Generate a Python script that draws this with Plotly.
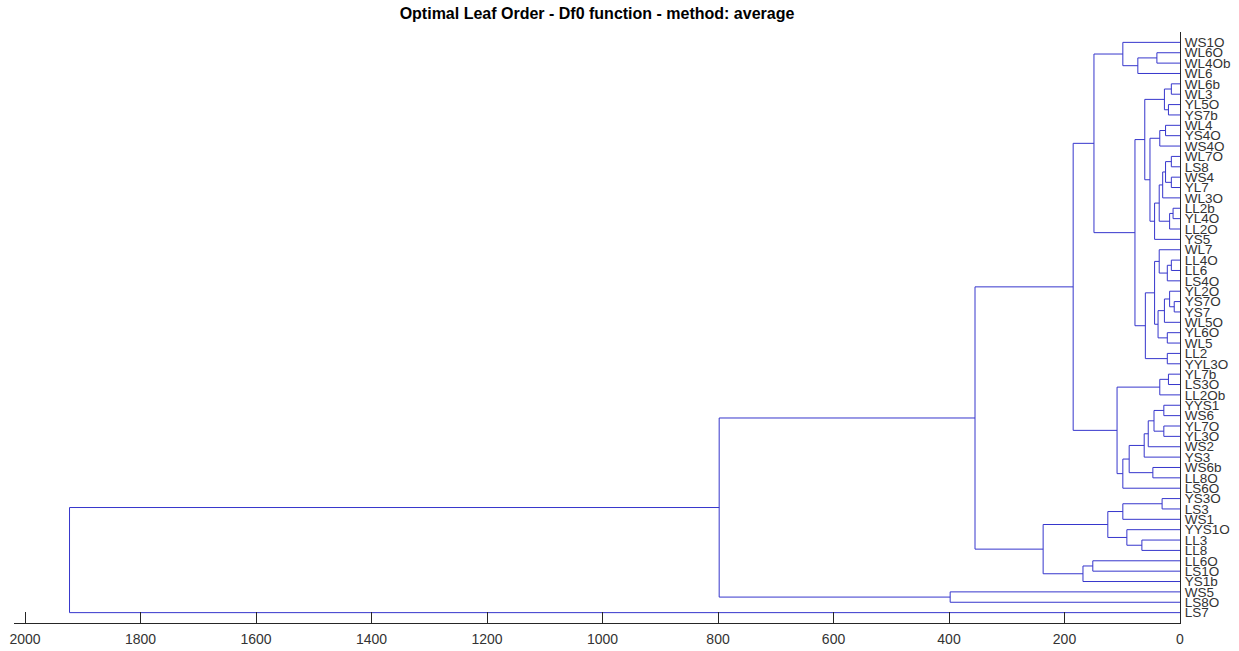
import plotly.graph_objects as go

# Leaves in display order (top to bottom)
leaf_labels = [
    "WS1O", "WL6O", "WL4Ob", "WL6", "WL6b", "WL3", "YL5O", "YS7b", "WL4", "YS4O",
    "WS4O", "WL7O", "LS8", "WS4", "YL7", "WL3O", "LL2b", "YL4O", "LL2O", "YS5",
    "WL7", "LL4O", "LL6", "LS4O", "YL2O", "YS7O", "YS7", "WL5O", "YL6O", "WL5",
    "LL2", "YYL3O", "YL7b", "LS3O", "LL2Ob", "YYS1", "WS6", "YL7O", "YL3O", "WS2",
    "YS3", "WS6b", "LL8O", "LS6O", "YS3O", "LS3", "WS1", "YYS1O", "LL3", "LL8",
    "LL6O", "LS1O", "YS1b", "WS5", "LS8O", "LS7",
]

# Merges: node "nK" is the K-th merge (1-based)
merge_a = [
    "WL6O", "n1", "WS1O", "WL6b", "YL5O", "n4", "WL4", "n7", "WL7O", "WS4",
    "n9", "n11", "LL2b", "n13", "n12", "n15", "n8", "n6", "LL4O", "n19",
    "WL7", "YS7O", "YL2O", "n23", "YL6O", "n24", "n21", "LL2", "n27", "n18",
    "n3", "YL7b", "n32", "YYS1", "YL7O", "n34", "n36", "n37", "WS6b", "n38",
    "n40", "n33", "n31", "YS3O", "n44", "LL3", "YYS1O", "n45", "LL6O", "n49",
    "n48", "n43", "WS5", "n52", "n54",
]
merge_b = [
    "WL4Ob", "WL6", "n2", "WL3", "YS7b", "n5", "YS4O", "WS4O", "LS8", "YL7",
    "n10", "WL3O", "YL4O", "LL2O", "n14", "YS5", "n16", "n17", "LL6", "LS4O",
    "n20", "YS7", "n22", "WL5O", "WL5", "n25", "n26", "YYL3O", "n28", "n29",
    "n30", "LS3O", "LL2Ob", "WS6", "YL3O", "n35", "WS2", "YS3", "LL8O", "n39",
    "LS6O", "n41", "n42", "LS3", "WS1", "LL8", "n46", "n47", "LS1O", "YS1b",
    "n50", "n51", "LS8O", "n53", "LS7",
]
merge_height = [
    40, 73, 99, 15, 20, 27, 25, 35, 15, 15,
    25, 30, 12, 18, 36, 44, 52, 61, 15, 22,
    36, 10, 18, 27, 22, 38, 44, 22, 60, 78,
    149, 20, 35, 28, 28, 45, 55, 62, 47, 88,
    99, 109, 185, 31, 99, 66, 92, 125, 151, 168,
    237, 355, 398, 798, 1923,
]

n_leaves = len(leaf_labels)
pos_y = {lab: n_leaves - i for i, lab in enumerate(leaf_labels)}
pos_x = {lab: 0.0 for lab in leaf_labels}

xs, ys = [], []
for k, (a, b, h) in enumerate(zip(merge_a, merge_b, merge_height), start=1):
    ya, yb = pos_y[a], pos_y[b]
    xs += [pos_x[a], h, h, pos_x[b], None]
    ys += [ya, ya, yb, yb, None]
    name = f"n{k}"
    pos_y[name] = (ya + yb) / 2.0
    pos_x[name] = h

x_max = max(merge_height) * 1.05

fig = go.Figure()
fig.add_trace(go.Scatter(
    x=xs, y=ys, mode="lines",
    line=dict(color="#3636cc", width=1),
    hoverinfo="skip", showlegend=False,
))

font_family = "Liberation Sans, Arial, Helvetica, sans-serif"
fig.update_layout(
    width=1239, height=651,
    margin=dict(l=14, r=59, t=32, b=28, autoexpand=False),
    paper_bgcolor="white", plot_bgcolor="white",
    title=dict(
        text="<b>Optimal Leaf Order - Df0 function - method: average</b>",
        x=(14 + 1180) / 2 / 1239, xanchor="center",
        y=1 - 13 / 651, yanchor="middle",
        font=dict(family=font_family, size=16, color="#000000"),
    ),
    font=dict(family=font_family, color="#333333"),
)
fig.update_xaxes(
    range=[x_max, 0], automargin=False,
    tickvals=[2000, 1800, 1600, 1400, 1200, 1000, 800, 600, 400, 200, 0],
    ticks="inside", ticklen=11, tickcolor="#262626", tickwidth=1,
    showline=True, linecolor="#262626", linewidth=1,
    showgrid=False, zeroline=False,
    tickfont=dict(size=14, color="#333333", family=font_family),
    ticklabelstandoff=3,
)
fig.update_yaxes(
    range=[0, n_leaves + 1], automargin=False,
    side="right",
    tickvals=[pos_y[l] for l in leaf_labels],
    ticktext=leaf_labels,
    ticks="", showline=True, linecolor="#262626", linewidth=1,
    showgrid=False, zeroline=False,
    tickfont=dict(size=13.5, color="#333333", family=font_family),
    ticklabelstandoff=1,
)

fig.write_html("out.html")
